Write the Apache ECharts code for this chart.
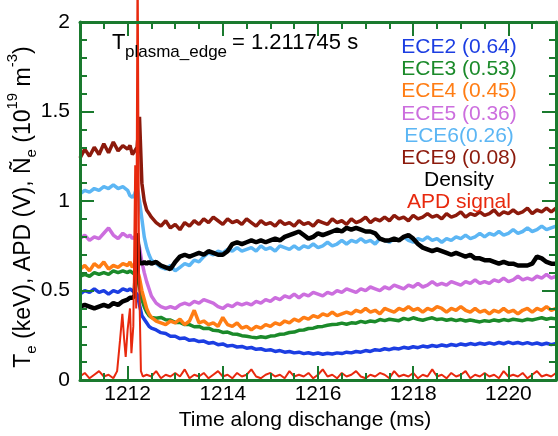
<!DOCTYPE html>
<html>
<head>
<meta charset="utf-8">
<script src="https://cdn.jsdelivr.net/npm/echarts@6/dist/echarts.min.js"></script>
<style>
html,body{margin:0;padding:0;background:#fff;}
#c{width:558px;height:436px;}
</style>
</head>
<body>
<div id="c"></div>
<script>
// ---- sample times (ms) ----
function steps(a, b, d) { const out = []; const n = Math.round((b - a) / d); for (let i = 0; i <= n; i++) out.push(+(a + i * d).toFixed(2)); return out; }
const TIME = [].concat(steps(1211.0, 1211.9, 0.1), steps(1212.0, 1212.5, 0.05), steps(1212.6, 1221.0, 0.1));
const APD_SPIKE_T = [1211.74, 1211.78, 1211.84, 1211.89, 1211.93, 1211.96, 1212.0, 1212.05, 1212.08, 1212.12, 1212.16, 1212.18, 1212.21, 1212.24, 1212.28, 1212.32];
const APD_TIME = [].concat(steps(1211.0, 1211.7, 0.1), APD_SPIKE_T, steps(1212.4, 1221.0, 0.1));

const X_TICKS = [1212, 1214, 1216, 1218, 1220];

// ---- series values ----
const ece2 = [
  0.48, 0.50, 0.49, 0.51, 0.49, 0.50, 0.48, 0.50, 0.49, 0.51,
  0.50, 0.51, 0.50, 0.49, 0.48, 0.42, 0.36, 0.34, 0.32, 0.30, 0.29,
  0.28, 0.265, 0.26, 0.245, 0.245, 0.232, 0.235, 0.222, 0.225, 0.215,
  0.218, 0.206, 0.21, 0.198, 0.202, 0.19, 0.194, 0.185, 0.188, 0.178,
  0.182, 0.172, 0.175, 0.166, 0.17, 0.16, 0.165, 0.156, 0.16, 0.152,
  0.156, 0.148, 0.153, 0.146, 0.151, 0.144, 0.15, 0.146, 0.152, 0.148,
  0.156, 0.152, 0.16, 0.156, 0.165, 0.16, 0.17, 0.166, 0.175, 0.17,
  0.178, 0.174, 0.183, 0.178, 0.186, 0.181, 0.19, 0.185, 0.193, 0.188,
  0.196, 0.19, 0.199, 0.193, 0.202, 0.196, 0.204, 0.198, 0.206, 0.2,
  0.208, 0.201, 0.21, 0.203, 0.212, 0.204, 0.21, 0.202, 0.209, 0.201,
  0.207, 0.199, 0.206, 0.198, 0.204
];
const ece3 = [
  0.58, 0.59, 0.58, 0.60, 0.59, 0.60, 0.59, 0.61, 0.60, 0.61,
  0.60, 0.61, 0.60, 0.59, 0.58, 0.52, 0.45, 0.41, 0.38, 0.36, 0.35,
  0.345, 0.35, 0.337, 0.335, 0.322, 0.322, 0.31, 0.31, 0.298, 0.3,
  0.288, 0.29, 0.278, 0.276, 0.266, 0.268, 0.258, 0.256, 0.248, 0.245,
  0.24, 0.236, 0.242, 0.238, 0.246, 0.248, 0.256, 0.258, 0.266, 0.268,
  0.278, 0.28, 0.288, 0.29, 0.298, 0.3, 0.306, 0.31, 0.312, 0.318,
  0.312, 0.32, 0.318, 0.328, 0.322, 0.33, 0.326, 0.338, 0.332, 0.34,
  0.336, 0.332, 0.345, 0.338, 0.348, 0.34, 0.334, 0.342, 0.348, 0.338,
  0.342, 0.334, 0.34, 0.332, 0.338, 0.33, 0.336, 0.33, 0.325, 0.332,
  0.328, 0.336, 0.33, 0.338, 0.332, 0.34, 0.336, 0.332, 0.34, 0.336,
  0.342, 0.348, 0.34, 0.346, 0.342
];
const ece4 = [
  0.62, 0.64, 0.61, 0.65, 0.63, 0.66, 0.62, 0.64, 0.63, 0.65,
  0.64, 0.66, 0.63, 0.65, 0.62, 0.57, 0.50, 0.45, 0.40, 0.37, 0.35,
  0.33, 0.32, 0.31, 0.33, 0.32, 0.34, 0.31, 0.33, 0.39, 0.32,
  0.33, 0.31, 0.32, 0.30, 0.35, 0.31, 0.30, 0.32, 0.29, 0.30,
  0.28, 0.30, 0.29, 0.31, 0.30, 0.32, 0.31, 0.33, 0.32, 0.34,
  0.33, 0.35, 0.34, 0.36, 0.35, 0.37, 0.36, 0.38, 0.36, 0.37,
  0.38, 0.37, 0.39, 0.38, 0.40, 0.38, 0.39, 0.37, 0.40, 0.39,
  0.38, 0.40, 0.39, 0.41, 0.39, 0.40, 0.38, 0.40, 0.39, 0.41,
  0.40, 0.38, 0.40, 0.39, 0.41, 0.39, 0.38, 0.40, 0.38, 0.39,
  0.37, 0.39, 0.38, 0.40, 0.38, 0.39, 0.37, 0.39, 0.40, 0.38,
  0.40, 0.39, 0.41, 0.39, 0.40
];
const ece5 = [
  0.79, 0.81, 0.78, 0.80, 0.79, 0.82, 0.85, 0.81, 0.79, 0.82,
  0.80, 0.81, 0.79, 0.80, 0.78, 0.74, 0.66, 0.60, 0.55, 0.51, 0.47,
  0.43, 0.41, 0.40, 0.41, 0.40, 0.42, 0.43, 0.42, 0.44, 0.43,
  0.45, 0.44, 0.43, 0.41, 0.40, 0.42, 0.41, 0.43, 0.42, 0.43,
  0.42, 0.44, 0.43, 0.45, 0.44, 0.46, 0.45, 0.47, 0.46, 0.48,
  0.46, 0.48, 0.47, 0.49, 0.48, 0.47, 0.49, 0.48, 0.50, 0.49,
  0.51, 0.50, 0.49, 0.51, 0.50, 0.52, 0.51, 0.50, 0.52, 0.51,
  0.53, 0.52, 0.51, 0.53, 0.52, 0.54, 0.52, 0.53, 0.55, 0.53,
  0.54, 0.53, 0.55, 0.54, 0.53, 0.55, 0.54, 0.56, 0.54, 0.55,
  0.54, 0.56, 0.55, 0.57, 0.55, 0.56, 0.58, 0.56, 0.57, 0.56,
  0.58, 0.57, 0.59, 0.57, 0.58
];
const ece6 = [
  1.04, 1.06, 1.05, 1.07, 1.06, 1.08, 1.07, 1.09, 1.07, 1.08,
  1.06, 1.03, 1.02, 1.04, 1.08, 1.00, 0.90, 0.80, 0.74, 0.70, 0.67,
  0.65, 0.63, 0.62, 0.64, 0.61, 0.63, 0.65, 0.64, 0.67, 0.66,
  0.69, 0.71, 0.70, 0.72, 0.71, 0.73, 0.72, 0.74, 0.72, 0.73,
  0.74, 0.72, 0.75, 0.73, 0.74, 0.72, 0.75, 0.74, 0.73, 0.75,
  0.73, 0.75, 0.74, 0.76, 0.74, 0.75, 0.77, 0.75, 0.76, 0.78,
  0.76, 0.78, 0.77, 0.79, 0.77, 0.78, 0.76, 0.79, 0.78, 0.77,
  0.79, 0.78, 0.80, 0.78, 0.77, 0.79, 0.78, 0.80, 0.78, 0.79,
  0.77, 0.79, 0.78, 0.80, 0.79, 0.81, 0.79, 0.80, 0.82, 0.80,
  0.82, 0.81, 0.83, 0.81, 0.82, 0.84, 0.82, 0.83, 0.85, 0.83,
  0.84, 0.86, 0.84, 0.85, 0.86
];
const ece9 = [
  1.24, 1.29, 1.25, 1.30, 1.26, 1.32, 1.27, 1.33, 1.28, 1.31,
  1.29, 1.31, 1.26, 1.28, 1.30, 1.47, 1.10, 1.00, 0.95, 0.93, 0.91,
  0.88, 0.86, 0.89, 0.85, 0.87, 0.84, 0.88, 0.86, 0.89, 0.87,
  0.90, 0.88, 0.91, 0.89, 0.87, 0.90, 0.88, 0.89, 0.87, 0.90,
  0.88, 0.86, 0.89, 0.87, 0.88, 0.86, 0.89, 0.87, 0.88, 0.86,
  0.89, 0.87, 0.88, 0.86, 0.89, 0.88, 0.87, 0.90, 0.88, 0.89,
  0.87, 0.90, 0.88, 0.89, 0.91, 0.88, 0.90, 0.89, 0.91, 0.89,
  0.92, 0.90, 0.91, 0.89, 0.92, 0.90, 0.91, 0.93, 0.91, 0.92,
  0.90, 0.93, 0.91, 0.92, 0.94, 0.91, 0.93, 0.92, 0.94, 0.92,
  0.93, 0.95, 0.92, 0.94, 0.93, 0.95, 0.93, 0.94, 0.96, 0.93,
  0.95, 0.94, 0.96, 0.94, 0.96
];
const density = [
  0.41, 0.42, 0.41, 0.40, 0.41, 0.42, 0.41, 0.43, 0.42, 0.44,
  0.45, 0.46, 0.46, 0.47, 0.82, 0.66, 0.65, 0.66, 0.65, 0.66, 0.65,
  0.66, 0.64, 0.63, 0.62, 0.66, 0.69, 0.70, 0.69, 0.70, 0.71,
  0.70, 0.72, 0.71, 0.70, 0.70, 0.72, 0.76, 0.77, 0.76, 0.77,
  0.78, 0.77, 0.78, 0.77, 0.78, 0.79, 0.78, 0.80, 0.81, 0.82,
  0.83, 0.81, 0.79, 0.80, 0.82, 0.81, 0.82, 0.83, 0.84, 0.83,
  0.85, 0.84, 0.85, 0.84, 0.83, 0.83, 0.82, 0.79, 0.78, 0.78,
  0.79, 0.78, 0.80, 0.81, 0.79, 0.76, 0.74, 0.73, 0.72, 0.73,
  0.72, 0.71, 0.70, 0.71, 0.70, 0.69, 0.70, 0.68, 0.68, 0.67,
  0.67, 0.66, 0.65, 0.66, 0.65, 0.65, 0.64, 0.64, 0.64, 0.65,
  0.69, 0.68, 0.66, 0.65, 0.65
];
const apd = [
  0.02, 0.04, 0.01, 0.03, 0.05, 0.02, 0.03, 0.01,
  0.03, 0.05, 0.22, 0.37, 0.22, 0.13, 0.28, 0.40, 0.15, 0.30, 1.20, 0.40, 2.40, 0.60, 0.05, 0.02,
  0.03, 0.02, 0.05, 0.01, 0.03, 0.02, 0.04, 0.02, 0.06, 0.01,
  0.03, 0.02, 0.04, 0.01, 0.03, 0.05, 0.02, 0.03, 0.01, 0.04,
  0.02, 0.03, 0.06, 0.02, 0.01, 0.03, 0.04, 0.02, 0.03, 0.01,
  0.05, 0.02, 0.03, 0.02, 0.04, 0.01, 0.03, 0.06, 0.02, 0.03,
  0.01, 0.04, 0.02, 0.03, 0.05, 0.02, 0.01, 0.03, 0.02, 0.04,
  0.03, 0.01, 0.05, 0.02, 0.03, 0.02, 0.04, 0.01, 0.03, 0.02,
  0.06, 0.02, 0.03, 0.01, 0.04, 0.02, 0.03, 0.05, 0.01, 0.03,
  0.02, 0.04, 0.02, 0.03, 0.01, 0.05, 0.02, 0.03, 0.02, 0.04,
  0.01, 0.03, 0.05, 0.02, 0.03, 0.02, 0.04
];

const LEGEND = [
  { text: 'ECE2 (0.64)', color: '#1c3ee2' },
  { text: 'ECE3 (0.53)', color: '#1b8a2a' },
  { text: 'ECE4 (0.45)', color: '#ff7d14' },
  { text: 'ECE5 (0.36)', color: '#cc6ede' },
  { text: 'ECE6(0.26)', color: '#5cb6f4' },
  { text: 'ECE9 (0.08)', color: '#8c1a0c' },
  { text: 'Density', color: '#000000' },
  { text: 'APD signal', color: '#e8290e' }
];

const FONT = 'Liberation Sans, Arial, Helvetica, sans-serif';
const GREEN = '#1a7a2e';

function pair(ts, vs) { return ts.map((t, i) => [t, vs[i]]); }

const chart = echarts.init(document.getElementById('c'), null, { renderer: 'canvas' });

function line(name, ts, vs, color, width, extra) {
  return Object.assign({
    name, type: 'line', data: pair(ts, vs), showSymbol: false, symbol: 'none',
    lineStyle: { color, width }, itemStyle: { color }, animation: false, silent: true
  }, extra || {});
}

const xBase = { type: 'value', min: 1211, max: 1221, splitLine: { show: false }, z: 5 };
const yBase = { type: 'value', min: 0, max: 2, interval: 0.5, splitLine: { show: false }, z: 5 };

const option = {
  animation: false,
  grid: { left: 80, right: 2, top: 22, bottom: 46, containLabel: false },
  xAxis: [
    Object.assign({}, xBase, {
      position: 'bottom', interval: 0.5,
      axisLine: { lineStyle: { color: GREEN, width: 3 } },
      axisTick: { inside: true, length: 7, lineStyle: { color: GREEN, width: 2 } },
      axisLabel: { show: false }
    }),
    Object.assign({}, xBase, {
      position: 'bottom',
      axisLine: { show: false },
      axisTick: { inside: true, length: 14, customValues: X_TICKS, lineStyle: { color: GREEN, width: 2 } },
      axisLabel: { customValues: X_TICKS, formatter: v => String(v), fontSize: 21, color: '#000', fontFamily: FONT, margin: 4 },
      name: 'Time along dischange (ms)', nameLocation: 'middle', nameGap: 24,
      nameTextStyle: { fontSize: 21, color: '#000', fontFamily: FONT, padding: [0, 26, 0, 0] }
    }),
    Object.assign({}, xBase, {
      position: 'top', interval: 0.5,
      axisLine: { lineStyle: { color: GREEN, width: 3 } },
      axisTick: { inside: true, length: 7, lineStyle: { color: GREEN, width: 2 } },
      axisLabel: { show: false }
    }),
    Object.assign({}, xBase, {
      position: 'top',
      axisLine: { show: false },
      axisTick: { inside: true, length: 14, customValues: X_TICKS, lineStyle: { color: GREEN, width: 2 } },
      axisLabel: { show: false }
    })
  ],
  yAxis: [
    Object.assign({}, yBase, {
      position: 'left',
      axisLine: { lineStyle: { color: GREEN, width: 3 } },
      axisTick: { inside: true, length: 14, lineStyle: { color: GREEN, width: 2 } },
      minorTick: { show: true, splitNumber: 5, length: 7, lineStyle: { color: GREEN, width: 2 } },
      axisLabel: { fontSize: 21, color: '#000', fontFamily: FONT, margin: 10, padding: [0, 0, 10, 0] }
    }),
    Object.assign({}, yBase, {
      position: 'right',
      axisLine: { lineStyle: { color: GREEN, width: 3 } },
      axisTick: { inside: true, length: 14, lineStyle: { color: GREEN, width: 2 } },
      minorTick: { show: true, splitNumber: 5, length: 7, lineStyle: { color: GREEN, width: 2 } },
      axisLabel: { show: false }
    })
  ],
  series: [
    line('ECE2', TIME, ece2, LEGEND[0].color, 3.5),
    line('ECE3', TIME, ece3, LEGEND[1].color, 3.5),
    line('ECE4', TIME, ece4, LEGEND[2].color, 3.5),
    line('ECE5', TIME, ece5, LEGEND[3].color, 3.5),
    line('ECE6', TIME, ece6, LEGEND[4].color, 3.5),
    line('ECE9', TIME, ece9, LEGEND[5].color, 3.5),
    line('Density', TIME, density, LEGEND[6].color, 4.5),
    line('APD', APD_TIME, apd, LEGEND[7].color, 2, { clip: false })
  ],
  graphic: [
    { type: 'text', x: 112, y: 43, z: 20, style: { text: 'T', font: '22px ' + FONT, fill: '#000', align: 'left', verticalAlign: 'middle' } },
    { type: 'text', x: 125, y: 52, z: 20, style: { text: 'plasma_edge', font: '17px ' + FONT, fill: '#000', align: 'left', verticalAlign: 'middle' } },
    { type: 'text', x: 232, y: 43, z: 20, style: { text: '= 1.211745 s', font: '22px ' + FONT, fill: '#000', align: 'left', verticalAlign: 'middle' } },
    {
      type: 'text', x: 24, y: 207, rotation: Math.PI / 2, z: 20,
      style: {
        text: '{n|T}{sub|e}{n| (keV), APD (V), Ñ}{sub|e}{n| (10}{sup|19}{n| m}{sup|-3}{n|)}',
        align: 'center', verticalAlign: 'middle', fill: '#000',
        rich: {
          n: { fontSize: 23, fontFamily: FONT, lineHeight: 38, verticalAlign: 'middle', fill: '#000' },
          sub: { fontSize: 15, fontFamily: FONT, lineHeight: 38, verticalAlign: 'bottom', padding: [0, 0, 4, 0], fill: '#000' },
          sup: { fontSize: 15, fontFamily: FONT, lineHeight: 15, verticalAlign: 'top', fill: '#000' }
        }
      }
    }
  ].concat(LEGEND.map((l, i) => ({
    type: 'text', x: 459, y: 47.5 + i * 22.1, z: 20,
    style: { text: l.text, font: '21px ' + FONT, fill: l.color, align: 'center', verticalAlign: 'middle' }
  })))
};
chart.setOption(option);
</script>
</body>
</html>
